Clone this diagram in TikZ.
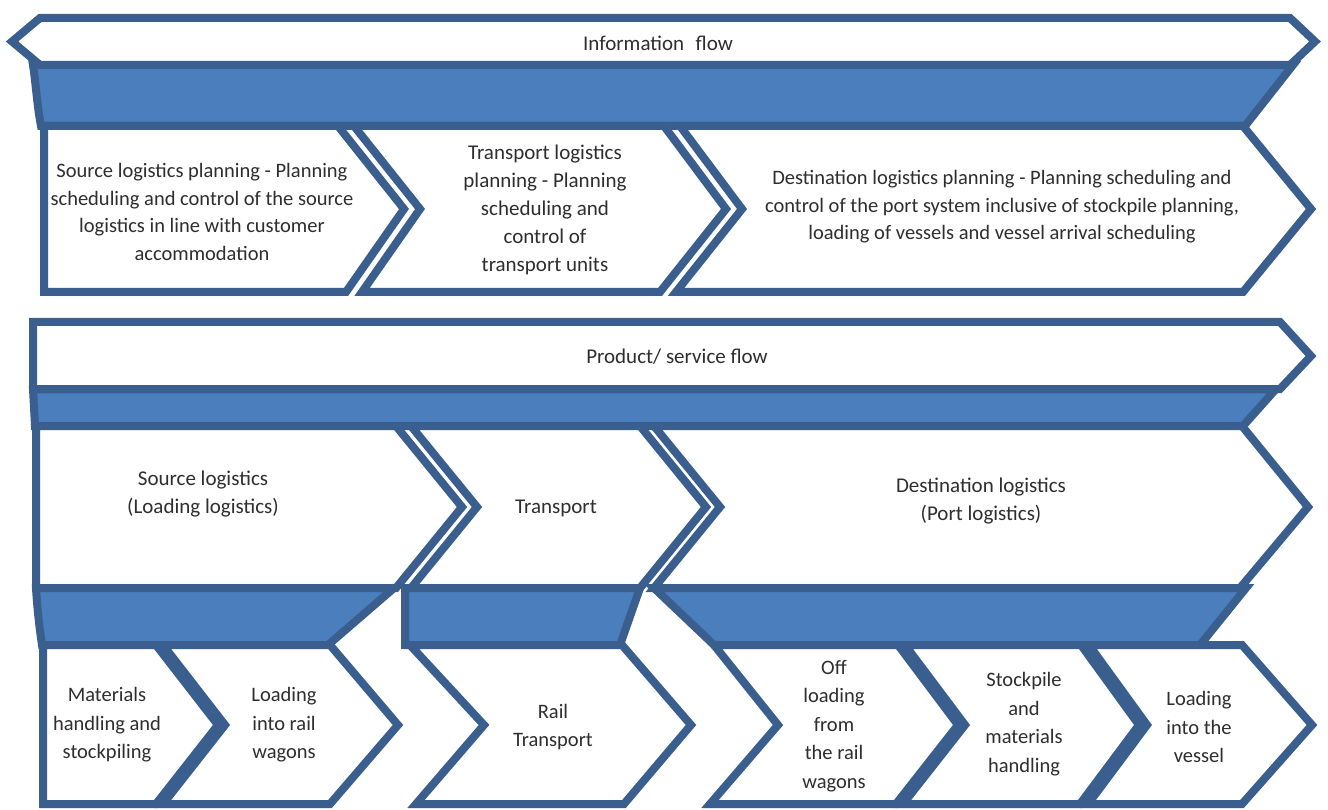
\documentclass[tikz,border=0pt]{standalone}
\usepackage{fontspec}
\setmainfont{Carlito}
\definecolor{edge}{HTML}{3A5E8E}
\definecolor{band}{HTML}{4A7EBD}
\definecolor{ink}{HTML}{2E2E2E}
\begin{document}
\begin{tikzpicture}[x=1pt,y=-1pt,
  shell/.style={draw=edge, line width=8pt, fill=white, line join=miter},
  bandshape/.style={draw=edge, line width=8pt, fill=band, line join=miter},
  txt/.style={text=ink, align=center, inner sep=0pt, font=\fontsize{20.5}{28.5}\selectfont},
  headtxt/.style={txt, font=\fontsize{21}{28}\selectfont},
  plantxt/.style={txt, font=\fontsize{20.5}{27.5}\selectfont}]
\useasboundingbox (0,0) rectangle (1328,810);

% ---------- information flow ----------
\draw[bandshape] (33,65) .. controls (36,85) and (37,105) .. (41,126)
  -- (1245,126) -- (1293,65) -- cycle;
\draw[shell] (12,41.5) -- (40,18) -- (1290,18) -- (1315,41.5) -- (1290,65) -- (40,65) -- cycle;
\node[headtxt] (info) at (658,43) {Information\hspace{0.55em}flow};

% planning chevrons
\draw[shell] (44,126) -- (338,126) -- (404,209) -- (346,292) -- (44,292) -- cycle;
\draw[shell] (354,126) -- (420,209) -- (362,292) -- (660,292) -- (726,209) -- (664,126) -- cycle;
\draw[shell] (680,126) -- (1243,126) -- (1311,209) -- (1243,292) -- (676,292) -- (742,209) -- cycle;

\node[plantxt] (srcplan) at (202,212)
  {Source logistics planning - Planning\\scheduling and control of the source\\logistics in line with customer\\accommodation};
\node[plantxt, font=\fontsize{21}{28}\selectfont] (trplan) at (545,210)
  {Transport logistics\\planning - Planning\\scheduling and\\control of\\transport units};
\node[plantxt] (dstplan) at (1002,207)
  {Destination logistics planning - Planning scheduling and\\control of the port system inclusive of stockpile planning,\\loading of vessels and vessel arrival scheduling};

% ---------- product / service flow ----------
\draw[bandshape] (33,389) -- (1276,389) -- (1243,426) -- (35,426) -- cycle;
\draw[shell] (33,322) -- (1280,322) -- (1311,356) -- (1280,389) -- (33,389) -- cycle;
\node[headtxt] (product) at (677,357) {Product/ service flow};

% logistics chevrons
\draw[shell] (36,426) -- (396,426) -- (462,507) -- (396,588) -- (36,588) -- cycle;
\draw[shell] (411,426) -- (477,507) -- (411,588) -- (640,588) -- (706,507) -- (640,426) -- cycle;
\draw[shell] (654,426) -- (1242,426) -- (1308,507) -- (1240,588) -- (654,588) -- (720,507) -- cycle;

\node[headtxt] (srclog) at (203,494) {Source logistics\\(Loading logistics)};
\node[headtxt] (trans) at (556,508) {Transport};
\node[headtxt] (dstlog) at (981,501) {Destination logistics\\(Port logistics)};

% ---------- operations ----------
\draw[bandshape] (36,588) -- (394,588) -- (328,645) -- (42,645) .. controls (39,625) and (37,605) .. (36,588) -- cycle;
\draw[bandshape] (405,588) -- (640,588) -- (620,645) -- (405,645) -- cycle;
\draw[bandshape] (654,588) -- (1246,588) -- (1200,645) -- (714,645) -- cycle;

\draw[shell] (43,645) -- (156,645) -- (218,725) -- (156,804) -- (43,804) -- cycle;
\draw[shell] (163,645) -- (225,725) -- (163,804) -- (330,804) -- (398,725) -- (330,645) -- cycle;
\draw[shell] (410,645) -- (484,725) -- (416,804) -- (624,804) -- (691,725) -- (622,645) -- cycle;
\draw[shell] (714,645) -- (778,725) -- (710,804) -- (896,804) -- (958,725) -- (898,645) -- cycle;
\draw[shell] (905,645) -- (965,725) -- (903,804) -- (1080,804) -- (1139,725) -- (1081,645) -- cycle;
\draw[shell] (1089,645) -- (1147,725) -- (1088,804) -- (1242,804) -- (1312,725) -- (1242,645) -- cycle;

\node[txt] (handling) at (107,725) {Materials\\handling and\\stockpiling};
\node[txt] (loadrail) at (284,725) {Loading\\into rail\\wagons};
\node[txt] (rail) at (553,727) {Rail\\Transport};
\node[txt] (offload) at (834,726) {Off\\loading\\from\\the rail\\wagons};
\node[txt] (stockpile) at (1024,724) {Stockpile\\and\\materials\\handling};
\node[txt] (loadvessel) at (1199,727) {Loading\\into the\\vessel};
\end{tikzpicture}
\end{document}
